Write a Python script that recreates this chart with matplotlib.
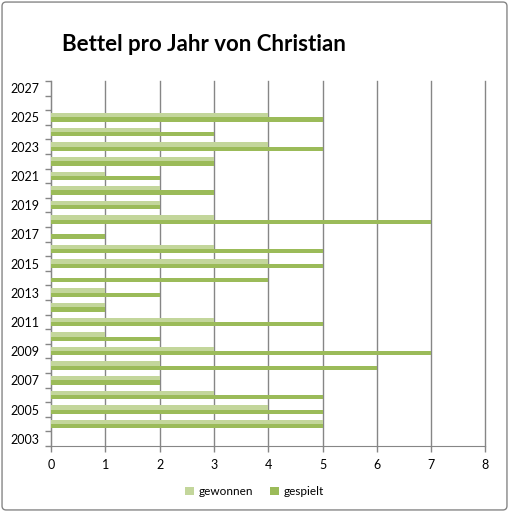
import numpy as np
import matplotlib.pyplot as plt
from matplotlib.patches import FancyBboxPatch

# Bettel-Statistik je Jahr
years = list(range(2003, 2028))
gewonnen = [0, 5, 4, 3, 2, 2, 3, 1, 3, 1, 1, 0, 4, 3, 0, 3, 2, 2, 1, 3, 4, 2, 4, 0, 0]
gespielt = [0, 5, 5, 5, 2, 6, 7, 2, 5, 1, 2, 4, 5, 5, 1, 7, 2, 3, 2, 3, 5, 3, 5, 0, 0]

light = '#C3D69B'
dark = '#9BBB59'
grey = '#868686'

plt.rcParams['font.family'] = ['Lato', 'DejaVu Sans']

fig = plt.figure(figsize=(5.09, 5.12), dpi=100)
border = FancyBboxPatch((0.004, 0.004), 0.992, 0.992, boxstyle='round,pad=0,rounding_size=0.008',
                        transform=fig.transFigure, fill=False, edgecolor=grey, linewidth=1)
fig.patches.append(border)

ax = fig.add_axes([0.1002, 0.1289, 0.8536, 0.7129])

y = np.arange(len(years))
h = 0.3
ax.barh(y + h / 2, gewonnen, height=h, color=light, label='gewonnen', zorder=3)
ax.barh(y - h / 2, gespielt, height=h, color=dark, label='gespielt', zorder=3)

ax.set_xlim(0, 8)
ax.set_ylim(-0.5, len(years) - 0.5)
ax.set_xticks(range(0, 9))
ax.xaxis.grid(True, color=grey, linewidth=1, zorder=0)
for gl in ax.get_xgridlines():
    gl.set_clip_on(False)

ax.set_yticks(y[::2])
ax.set_yticklabels([str(v) for v in years[::2]])
ax.set_yticks(np.arange(-0.5, len(years)), minor=True)
ax.tick_params(axis='y', which='major', length=0, labelsize=9, pad=8)
ax.tick_params(axis='y', which='minor', length=4, color=grey, width=1)
ax.tick_params(axis='x', length=4, color=grey, width=1, labelsize=9, pad=5)

for s in ['top', 'right']:
    ax.spines[s].set_visible(False)
for s in ['left', 'bottom']:
    ax.spines[s].set_color(grey)

fig.text(0.122, 0.914, 'Bettel pro Jahr von Christian', fontsize=16, fontweight='bold', va='center')

fig.legend(loc='center', bbox_to_anchor=(0.5, 0.04), ncol=2, frameon=False, fontsize=8.5,
           handlelength=0.7, handleheight=0.7, handletextpad=0.4, columnspacing=1.5)

fig.savefig('out.png', dpi=100)
